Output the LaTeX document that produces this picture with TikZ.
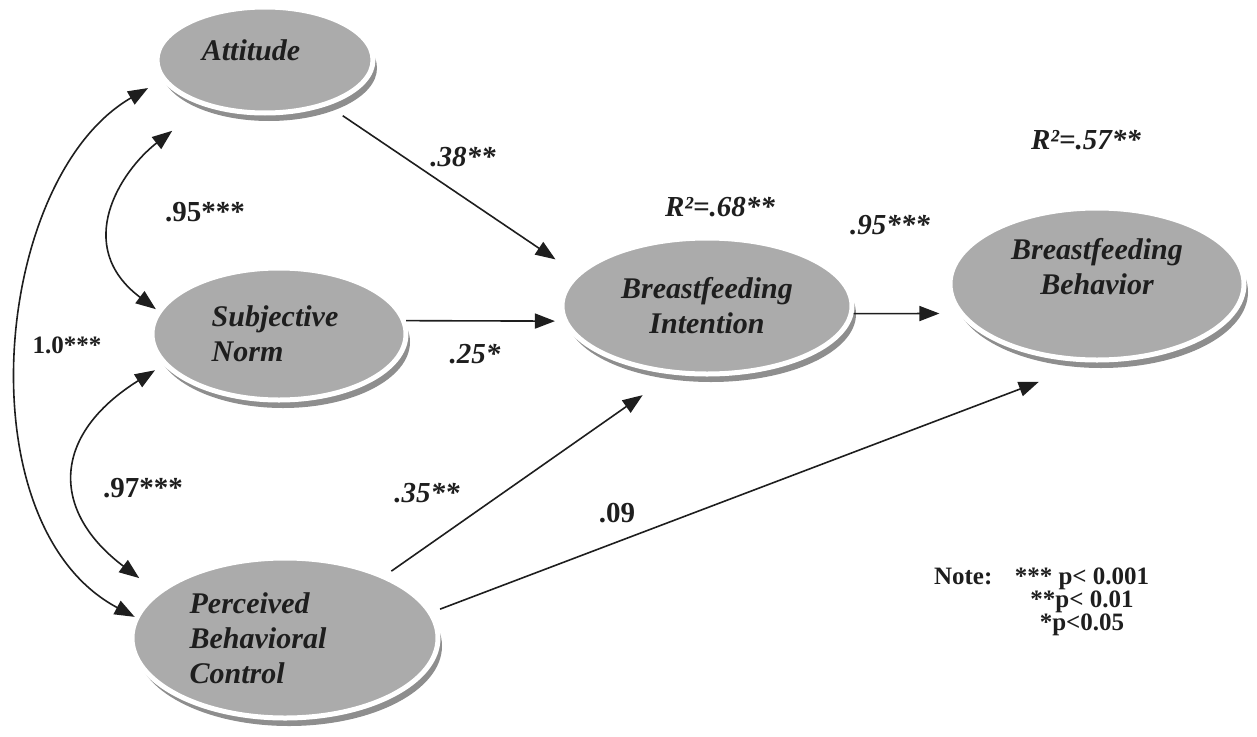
\documentclass[tikz,border=0pt]{standalone}
\usepackage{fontspec}
\setmainfont{Liberation Serif}
\usepackage{tikz}
\usetikzlibrary{
  arrows.meta,
  shapes.geometric,
  positioning,
  shadows
}
\definecolor{tpbFill}{HTML}{ABABAB}
\definecolor{tpbShadow}{HTML}{8E8E8E}
\definecolor{tpbInk}{HTML}{1E1E1E}
\tikzset{
  construct/.style={
    ellipse, fill=tpbFill, draw=white, line width=5pt, inner sep=0pt,
    font=\fontsize{30}{35}\selectfont\bfseries\itshape, align=center, text=tpbInk,
    drop shadow={shadow xshift=4pt, shadow yshift=-8pt, fill=tpbShadow, opacity=1}
  },
  effect/.style={-{Triangle[length=20pt, width=15pt]}, line width=1.6pt, tpbInk},
  covar/.style={{Triangle[length=20pt, width=15pt]}-{Triangle[length=20pt, width=15pt]}, line width=1.6pt, tpbInk},
  coef/.style={font=\fontsize{29}{32}\selectfont\bfseries\itshape, text=tpbInk, inner sep=0pt},
  coefup/.style={font=\fontsize{29}{32}\selectfont\bfseries, text=tpbInk, inner sep=0pt},
  notetext/.style={font=\fontsize{25}{20}\selectfont\bfseries, text=tpbInk, inner sep=0pt, align=center}
}

\begin{document}
\begin{tikzpicture}[x=1pt, y=1pt]
  \useasboundingbox (0,0) rectangle (1257,-736);
  % constructs
  \node[construct, minimum width=216pt, minimum height=106pt, text depth=20pt] (att) at (265,-60) {Attitude\kern28pt};
  \node[construct, minimum width=254pt, minimum height=132pt, align=left] (sn) at (279,-334) {Subjective\kern8pt\\Norm};
  \node[construct, minimum width=306pt, minimum height=160pt, align=left] (pbc) at (285,-638) {Perceived\\Behavioral\kern54pt\\Control};
  \node[construct, minimum width=290pt, minimum height=136pt] (bi) at (707,-306) {Breastfeeding\\Intention};
  \node[construct, minimum width=294pt, minimum height=152pt, text depth=36pt] (bb) at (1097,-284) {Breastfeeding\\Behavior};

  % paths
  \draw[effect, shorten <=18pt, shorten >=25pt] (att.324) -- (bi.166);
  \draw[effect, shorten >=8pt] (sn.6) -- (bi.186);
  \draw[effect, shorten >=19pt] (bi.357) -- (bb.192);
  \draw[effect, shorten <=7pt, shorten >=36pt] (pbc.32) -- (bi.243);
  \draw[effect, shorten <=8pt, shorten >=55pt] (pbc.10) -- (bb.265);

  % correlations
  \draw[covar, shorten <=40pt, shorten >=2pt] (att.217) to[out=218, in=143, looseness=1.3] (sn.169);
  \draw[covar, shorten <=10pt, shorten >=22pt] (sn.195) to[out=212, in=143, looseness=1.5] (pbc.160);
  \draw[covar, shorten <=16pt] (att.191) to[out=210, in=152, looseness=0.93] (pbc.172);

  % coefficients
  \node[coef] (b38) at (463,-157) {.38**};
  \node[coef] (b25) at (475,-354) {.25*};
  \node[coef] (b35) at (427,-493) {.35**};
  \node[coefup] (b09) at (617,-513) {.09};
  \node[coef] (b95r) at (890,-225) {.95***};
  \node[coefup] (b95l) at (205,-212) {.95***};
  \node[coefup] (b97) at (143,-488) {.97***};
  \node[coefup, font=\fontsize{25}{28}\selectfont\bfseries] (b10) at (67,-345) {1.0***};
  \node[coef] (r68) at (720,-207) {R²=.68**};
  \node[coef] (r57) at (1086,-140) {R²=.57**};

  % note
  \node[notetext, anchor=north] (sig) at (1082,-568) {*** p< 0.001\\**p< 0.01\\*p<0.05};
  \node[notetext, anchor=north east] (notelbl) at ([xshift=-22pt]sig.north west) {Note:};
\end{tikzpicture}
\end{document}
